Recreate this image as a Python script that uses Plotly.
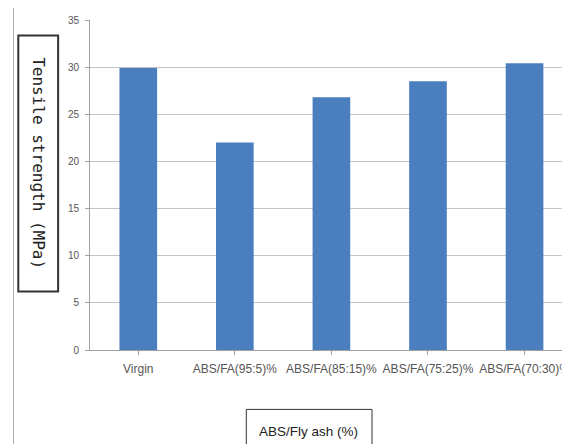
import plotly.graph_objects as go

categories = ["Virgin", "ABS/FA(95:5)%", "ABS/FA(85:15)%", "ABS/FA(75:25)%", "ABS/FA(70:30)%"]
tensile_strength = [29.9, 22.0, 26.8, 28.5, 30.4]
y_ticks = [0, 5, 10, 15, 20, 25, 30, 35]

fig = go.Figure()
fig.add_trace(go.Bar(
    x=list(range(len(categories))),
    y=tensile_strength,
    width=0.39,
    marker=dict(color="#4a7ebf", line=dict(width=0)),
))

fig.update_layout(
    width=562, height=436,
    margin=dict(l=82, r=0, t=12, b=94),
    paper_bgcolor="white", plot_bgcolor="white",
    showlegend=False,
    font=dict(family="Liberation Sans, Arial, sans-serif", size=9, color="#555555"),
    xaxis=dict(
        range=[-0.5, 4.45],
        tickmode="array", tickvals=list(range(len(categories))), ticktext=categories,
        showgrid=False, showline=True, linecolor="#a0a0a0", linewidth=1,
        ticks="outside", ticklen=4, tickcolor="#a0a0a0",
        tickangle=0, tickfont=dict(size=12, color="#555555"),
        ticklabelstandoff=4, ticklabeloverflow="allow",
    ),
    yaxis=dict(
        range=[0, 35], tickvals=y_ticks,
        showgrid=True, gridcolor="#c4c4c4", gridwidth=1,
        showline=True, linecolor="#a0a0a0", linewidth=1,
        ticks="outside", ticklen=4, tickcolor="#a0a0a0",
        tickfont=dict(size=10, color="#555555"), zeroline=False,
        ticklabelstandoff=4,
    ),
    shapes=[
        dict(type="line", xref="paper", yref="paper", x0=-0.160, x1=-0.160, y0=-0.317, y1=1.037,
             line=dict(color="#b0b0b0", width=1)),
        dict(type="rect", xref="paper", yref="paper", x0=-0.150, x1=-0.0667, y0=0.177, y1=0.953,
             line=dict(color="#333333", width=2), fillcolor="white", layer="above"),
        dict(type="rect", xref="paper", yref="paper", x0=0.327, x1=0.590, y0=-0.314, y1=-0.180,
             line=dict(color="#333333", width=1), fillcolor="white", layer="above"),
    ],
    annotations=[
        dict(text="Tensile strength (MPa)", textangle=90, xref="paper", yref="paper",
             x=-0.108, y=0.565, xanchor="center", yanchor="middle", showarrow=False,
             font=dict(family="DejaVu Sans Mono, monospace", size=16, color="#222222")),
        dict(text="ABS/Fly ash (%)", xref="paper", yref="paper",
             x=0.458, y=-0.247, xanchor="center", yanchor="middle", showarrow=False,
             font=dict(size=13.5, color="#222222")),
    ],
)

fig.update_xaxes(tickson="boundaries")
fig.write_html("out.html")
